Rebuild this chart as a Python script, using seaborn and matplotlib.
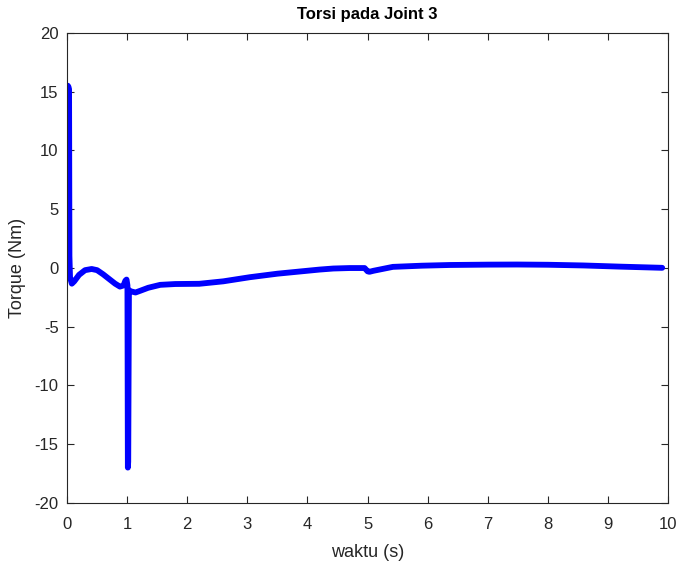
import matplotlib
matplotlib.use("Agg")
import matplotlib.pyplot as plt
import seaborn as sns
import pandas as pd

# Joint 3 torque response over time
waktu = [0.0, 0.004, 0.012, 0.024, 0.034, 0.040, 0.05, 0.08, 0.12, 0.20, 0.30,
         0.41, 0.50, 0.60, 0.70, 0.80, 0.88, 0.94, 0.97, 0.99, 1.005, 1.012,
         1.018, 1.03, 1.06, 1.14, 1.22, 1.35, 1.55, 1.80, 2.20, 2.60, 3.04,
         3.50, 3.88, 4.20, 4.43, 4.70, 4.95, 5.0, 5.03, 5.10, 5.42, 5.90,
         6.37, 7.00, 7.49, 8.00, 8.59, 9.20, 9.90]
torsi = [0.2, 15.4, 15.5, 15.4, 15.2, 1.0, -0.8, -1.35, -1.15, -0.6, -0.2,
         -0.1, -0.2, -0.55, -0.95, -1.35, -1.6, -1.5, -1.1, -1.0, -1.5, -17.0,
         -16.5, -1.9, -2.0, -2.1, -1.95, -1.7, -1.45, -1.38, -1.36, -1.15, -0.8,
         -0.5, -0.31, -0.15, -0.06, -0.02, -0.02, -0.3, -0.34, -0.25, 0.08, 0.18,
         0.24, 0.27, 0.28, 0.26, 0.2, 0.1, 0.0]

df = pd.DataFrame({"waktu": waktu, "torsi": torsi})

sns.set_theme(style="white")
plt.rcParams["font.family"] = ["Liberation Sans", "DejaVu Sans"]
plt.rcParams["axes.unicode_minus"] = False

fig = plt.figure(figsize=(6.77, 5.65), dpi=100)
ax = fig.add_axes([0.099, 0.110, 0.888, 0.832])

sns.lineplot(data=df, x="waktu", y="torsi", ax=ax, sort=False, estimator=None,
             color="#0000ff", linewidth=4.2, solid_joinstyle="round",
             solid_capstyle="round")

ax.set_xlim(0, 10)
ax.set_ylim(-20, 20)
ax.set_xticks(range(0, 11))
ax.set_yticks(range(-20, 21, 5))

ax.set_title("Torsi pada Joint 3", fontsize=12, fontweight="bold", color="#000000", pad=10)
ax.set_xlabel("waktu (s)", fontsize=13, color="#262626", labelpad=9)
ax.set_ylabel("Torque (Nm)", fontsize=13, color="#262626", labelpad=6)

for s in ax.spines.values():
    s.set_visible(True)
    s.set_color("#262626")
    s.set_linewidth(0.8)
ax.tick_params(direction="in", length=5, width=0.8, color="#262626",
               labelcolor="#262626", labelsize=12, top=True, right=True,
               bottom=True, left=True, labeltop=False, labelright=False)
ax.tick_params(axis="x", pad=10)
ax.tick_params(axis="y", pad=6)

fig.savefig("out.png", dpi=100)
